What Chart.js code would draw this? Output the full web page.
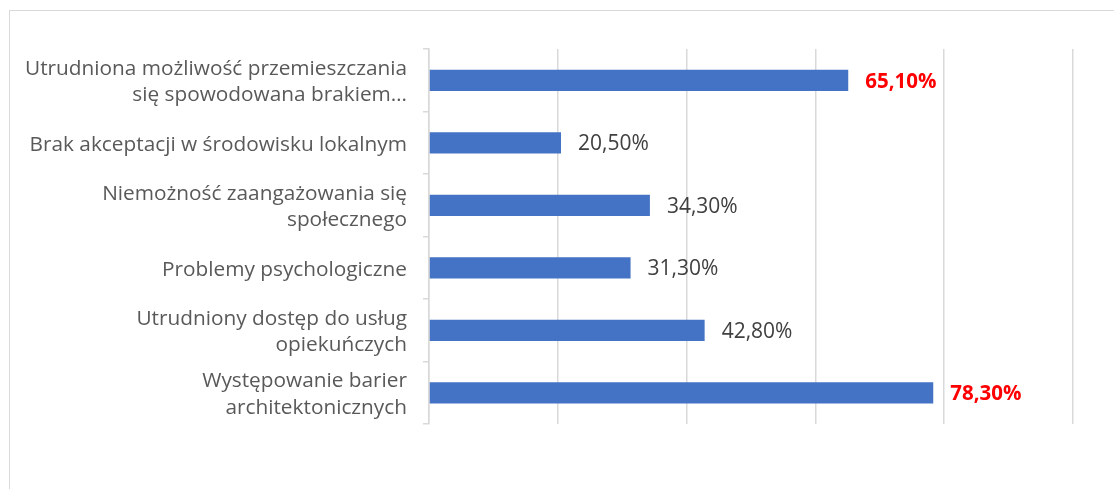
<!DOCTYPE html>
<html>
<head>
<meta charset="utf-8">
<script src="https://cdn.jsdelivr.net/npm/chart.js@4.4.1/dist/chart.umd.min.js"></script>
<style>
  html, body { margin: 0; padding: 0; background: #fff; overflow: hidden; }
  #frame { position: absolute; left: 9px; top: 10px; width: 1200px; height: 600px; border: 1px solid #d9d9d9; box-sizing: border-box; }
  #wrap { position: absolute; left: 0; top: 0; width: 1114px; height: 489px; }
</style>
</head>
<body>
<div id="frame"></div>
<div id="wrap"><canvas id="c" width="1114" height="489"></canvas></div>
<script>
const categories = [
  ["Utrudniona możliwość przemieszczania", "się spowodowana brakiem…"],
  "Brak akceptacji w środowisku lokalnym",
  ["Niemożność zaangażowania się", "społecznego"],
  "Problemy psychologiczne",
  ["Utrudniony dostęp do usług", "opiekuńczych"],
  ["Występowanie barier", "architektonicznych"]
];
const values = [65.1, 20.5, 34.3, 31.3, 42.8, 78.3];
const valueLabels = ["65,10%", "20,50%", "34,30%", "31,30%", "42,80%", "78,30%"];
const highlighted = [true, false, false, false, false, true];

const FONT = "'Open Sans', sans-serif";

const valueLabelPlugin = {
  id: 'valueLabels',
  afterDatasetsDraw(chart) {
    const ctx = chart.ctx;
    const meta = chart.getDatasetMeta(0);
    ctx.save();
    ctx.textBaseline = 'middle';
    ctx.textAlign = 'left';
    meta.data.forEach((bar, i) => {
      const hl = highlighted[i];
      ctx.font = (hl ? 'bold 20.5px ' : '21px ') + FONT;
      ctx.fillStyle = hl ? '#ff0000' : '#404040';
      ctx.fillText(valueLabels[i], bar.x + 17, bar.y + 1.5);
    });
    ctx.restore();
  }
};

new Chart(document.getElementById('c'), {
  type: 'bar',
  data: {
    labels: categories,
    datasets: [{
      data: values,
      backgroundColor: '#4472c4',
      borderWidth: 0,
      categoryPercentage: 1,
      barPercentage: 0.34
    }]
  },
  options: {
    indexAxis: 'y',
    responsive: false,
    animation: false,
    events: [],
    layout: { padding: { top: 49, right: 41, bottom: 65, left: 0 } },
    plugins: { legend: { display: false }, tooltip: { enabled: false } },
    scales: {
      x: {
        min: 0, max: 100,
        ticks: { display: false, stepSize: 20 },
        grid: { color: '#d9d9d9', lineWidth: 1.5, drawTicks: false },
        border: { display: false }
      },
      y: {
        afterFit(scale) { scale.width = 429; },
        ticks: {
          color: '#595959',
          font: { family: FONT, size: 20.8, lineHeight: 1.27 },
          padding: 16,
          labelOffset: 2
        },
        grid: { drawOnChartArea: false, drawTicks: true, tickLength: 6, color: '#d9d9d9', lineWidth: 1.5 },
        border: { display: true, color: '#d9d9d9', width: 1.5 }
      }
    }
  },
  plugins: [valueLabelPlugin]
});
</script>
</body>
</html>
